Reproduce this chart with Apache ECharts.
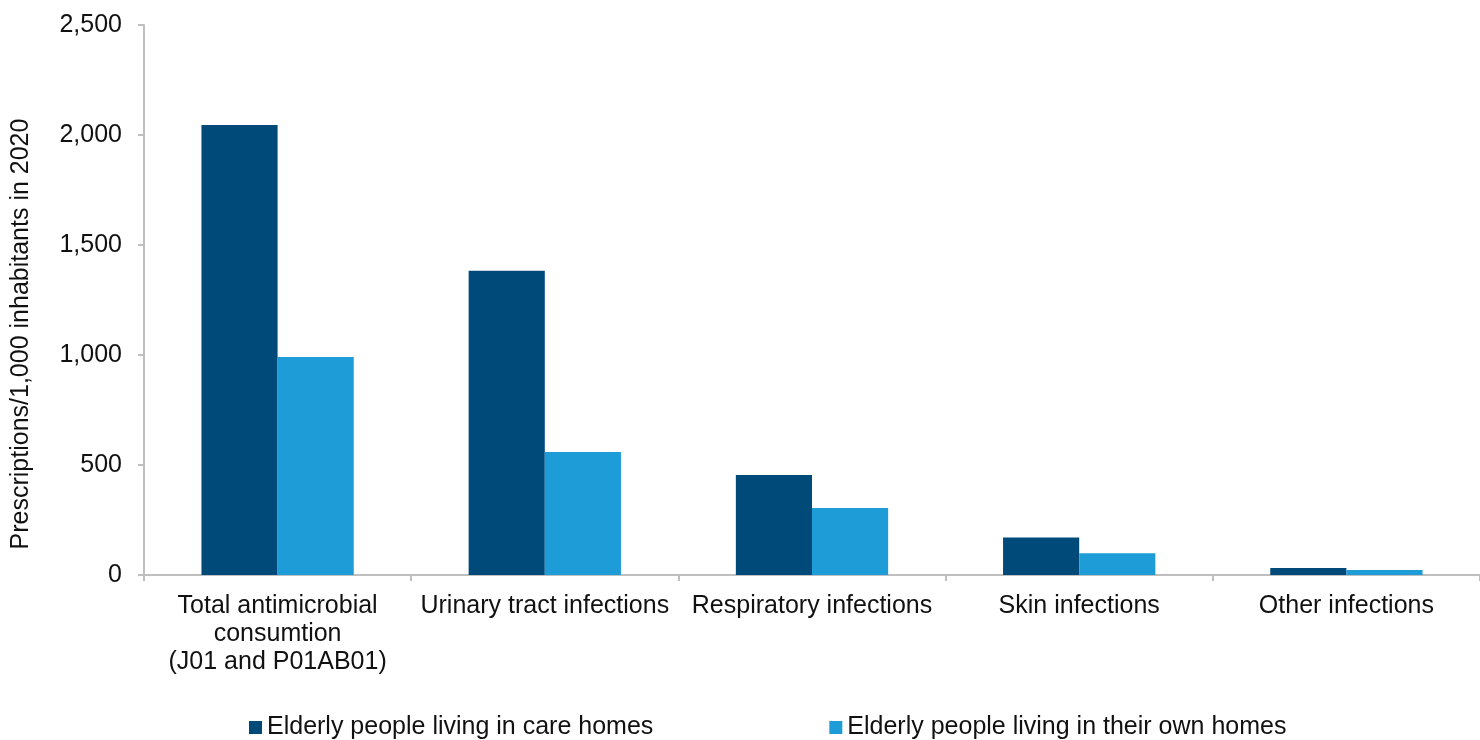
<!DOCTYPE html>
<html>
<head>
<meta charset="utf-8">
<script src="https://cdn.jsdelivr.net/npm/echarts@6/dist/echarts.min.js"></script>
<style>
  html, body { margin: 0; padding: 0; background: #ffffff; }
  #chart { width: 1480px; height: 740px; }
</style>
</head>
<body>
<div id="chart"></div>
<script>
// Antimicrobial prescriptions per 1,000 inhabitants, 2020
const categories = [
  'Total antimicrobial\nconsumtion\n(J01 and P01AB01)',
  'Urinary tract infections',
  'Respiratory infections',
  'Skin infections',
  'Other infections'
];
const careHomes = [2045, 1383, 455, 170, 32];
const ownHomes = [991, 559, 305, 99, 23];
const seriesNames = ['Elderly people living in care homes', 'Elderly people living in their own homes'];
const yTicks = { min: 0, max: 2500, interval: 500 };

const font = '"Liberation Sans", Arial, sans-serif';
const axisGray = '#bfbfbf';
const textColor = '#111111';
const fontSize = 25;

const chart = echarts.init(document.getElementById('chart'));
chart.setOption({
  animation: false,
  textStyle: { fontFamily: font },
  // the plot runs slightly past the right edge of the canvas
  grid: { left: 144, right: -13, top: 25, bottom: 165, containLabel: false },
  legend: {
    top: 710,
    left: 244,
    itemGap: 176,
    itemWidth: 13,
    itemHeight: 13,
    icon: 'rect',
    textStyle: { fontSize: fontSize, color: textColor, fontFamily: font, padding: [0, 0, 0, 0] },
    data: seriesNames
  },
  xAxis: {
    type: 'category',
    data: categories,
    boundaryGap: true,
    axisLine: { lineStyle: { color: axisGray, width: 2 } },
    axisTick: { show: true, length: 6, lineStyle: { color: axisGray, width: 2 } },
    axisLabel: { color: textColor, fontSize: fontSize, lineHeight: 28, margin: 17, interval: 0 }
  },
  yAxis: {
    type: 'value',
    min: yTicks.min,
    max: yTicks.max,
    interval: yTicks.interval,
    name: 'Prescriptions/1,000 inhabitants in 2020',
    nameLocation: 'middle',
    nameGap: 110,
    nameRotate: 90,
    nameTextStyle: { color: textColor, fontSize: fontSize, padding: [0, 68, 0, 0] },
    axisLine: { show: true, lineStyle: { color: axisGray, width: 2 } },
    axisTick: { show: true, length: 6, lineStyle: { color: axisGray, width: 2 } },
    splitLine: { show: false },
    axisLabel: {
      color: textColor, fontSize: fontSize, margin: 22,
      formatter: v => v.toLocaleString('en-US')
    }
  },
  series: [
    {
      name: seriesNames[0], type: 'bar', data: careHomes,
      barGap: '0%', barCategoryGap: '43%',
      itemStyle: { color: '#004a7a' }
    },
    {
      name: seriesNames[1], type: 'bar', data: ownHomes,
      itemStyle: { color: '#1e9cd8' }
    }
  ]
});
</script>
</body>
</html>
